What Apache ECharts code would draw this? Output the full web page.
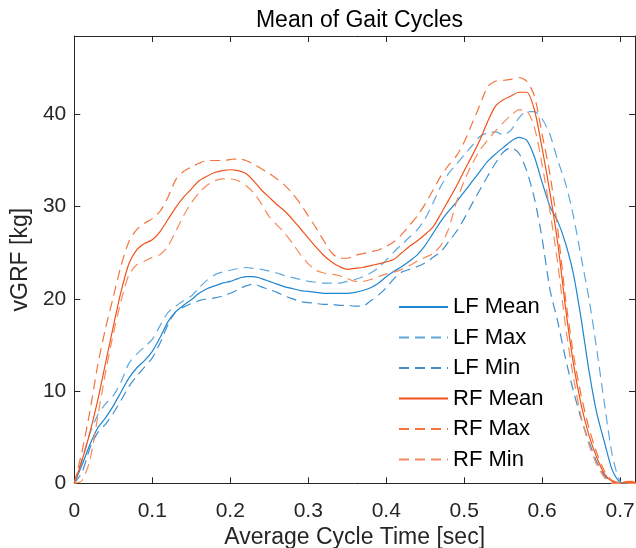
<!DOCTYPE html>
<html>
<head>
<meta charset="utf-8">
<script src="https://cdn.jsdelivr.net/npm/echarts@6/dist/echarts.min.js"></script>
<style>html,body{margin:0;padding:0;background:#fff;}#c{width:636px;height:548px;}</style>
</head>
<body>
<div id="c"></div>
<script>
// Time axis (sec), sampled every 0.01
const timeSec = [0,0.01,0.02,0.03,0.04,0.05,0.06,0.07,0.08,0.09,0.10,0.11,0.12,0.13,0.14,0.15,0.16,0.17,0.18,0.19,0.20,0.21,0.22,0.23,0.24,0.25,0.26,0.27,0.28,0.29,0.30,0.31,0.32,0.33,0.34,0.35,0.36,0.37,0.38,0.39,0.40,0.41,0.42,0.43,0.44,0.45,0.46,0.47,0.48,0.49,0.50,0.51,0.52,0.53,0.54,0.55,0.56,0.57,0.58,0.59,0.60,0.61,0.62,0.63,0.64,0.65,0.66,0.67,0.68,0.69,0.70,0.71,0.72];

const lfMean = [0,2.0,4.2,6.0,7.1,8.4,9.9,11.4,12.5,13.3,14.3,15.8,17.5,18.6,19.3,19.9,20.6,21.1,21.4,21.7,21.9,22.2,22.4,22.4,22.2,21.9,21.6,21.3,21.1,20.9,20.8,20.7,20.6,20.6,20.6,20.6,20.7,20.9,21.2,21.7,22.4,23.0,23.5,24.1,24.8,25.8,27.1,28.4,29.5,30.5,31.6,32.7,33.8,34.9,35.7,36.4,37.1,37.5,37.2,35.4,32.6,30.0,28.4,26.0,22.7,17.8,12.2,7.6,4.4,1.4,0.1,0,0];
const lfMax = [0,2.6,5.4,7.4,8.6,9.5,11.0,13.0,14.0,14.8,15.6,17.1,18.5,19.2,19.8,20.3,21.2,22.0,22.6,22.9,23.1,23.3,23.4,23.3,23.2,23.0,22.8,22.5,22.3,22.1,21.9,21.8,21.7,21.7,21.7,21.9,22.1,22.4,22.8,23.4,24.2,25.1,25.9,26.7,27.5,28.7,30.4,32.2,33.6,34.6,35.6,36.6,37.6,38.0,38.1,37.8,38.3,39.6,40.3,40.3,39.5,37.8,35.0,32.5,29.0,24.5,20.0,14.5,8.5,3.0,0.2,0,0];
const lfMin = [0,1.2,3.8,5.5,6.4,7.6,9.0,10.5,11.6,12.6,13.6,15.2,17.2,18.6,19.1,19.5,19.8,20.0,20.1,20.3,20.6,21.0,21.4,21.6,21.3,21.0,20.7,20.3,20.0,19.7,19.6,19.5,19.4,19.4,19.3,19.3,19.2,19.2,19.8,20.4,21.2,22.2,22.9,23.2,23.5,23.9,24.5,25.1,26.2,27.3,28.7,30.3,31.8,33.3,34.7,35.9,36.4,35.8,33.9,30.9,26.5,21.0,17.5,13.5,10.0,7.0,4.5,2.3,0.8,0.1,0,0,0];
const rfMean = [0,2.5,5.5,9.0,13.0,17.0,20.8,23.8,25.3,26.0,26.4,27.3,28.6,29.9,31.0,31.9,32.8,33.3,33.7,33.9,34.0,33.9,33.6,32.8,31.8,31.0,30.2,29.5,28.6,27.6,26.6,25.6,24.7,24.0,23.5,23.2,23.3,23.4,23.6,23.8,24.0,24.3,25.0,25.7,26.3,27.0,27.8,29.2,30.7,32.2,33.9,35.5,37.2,39.2,40.9,41.6,42.0,42.4,42.4,40.5,36.3,31.5,26.0,19.0,13.0,8.5,5.2,2.8,1.0,0.2,0,0.1,0.1];
const rfMax = [0,3.5,7.8,12.8,16.8,20.2,23.6,26.2,27.5,28.2,28.7,29.5,31.0,32.9,33.8,34.3,34.7,35.0,35.0,35.0,35.1,35.2,35.0,34.6,34.1,33.6,33.0,32.3,31.4,30.3,29.0,27.7,26.3,25.0,24.4,24.4,24.7,24.9,25.1,25.3,25.7,26.2,27.0,28.0,29.0,30.3,31.8,33.3,34.5,35.5,37.0,39.0,41.0,43.0,43.6,43.7,43.8,44.0,43.6,42.0,37.8,33.5,27.5,20.0,14.0,9.5,6.0,3.3,1.3,0.3,0.1,0.2,0.2];
const rfMin = [0,0.3,2.5,7.2,12.0,16.2,19.8,22.6,23.7,24.1,24.5,24.8,25.7,27.3,29.0,30.4,31.5,32.3,32.8,33.0,33.0,32.8,32.3,31.5,30.3,28.9,28.0,27.1,26.0,24.8,23.8,23.1,22.8,22.7,22.5,22.2,21.9,21.9,22.1,22.4,22.7,22.9,23.2,23.6,24.1,24.5,24.9,25.8,27.6,30.5,32.8,34.6,36.1,37.2,38.2,39.1,39.9,40.5,40.4,38.6,34.5,29.5,23.8,17.0,11.5,7.2,4.2,2.0,0.6,0,0,0,0];

const seriesNames = ['LF Mean','LF Max','LF Min','RF Mean','RF Max','RF Min'];
const seriesValues = [lfMean, lfMax, lfMin, rfMean, rfMax, rfMin];
const seriesColors = ['#1f86d0','#5fa8de','#3f8fd0','#f0521a','#f4733a','#f78a5a'];
const seriesDashed = [false, true, true, false, true, true];

const titleText = 'Mean of Gait Cycles';
const xName = 'Average Cycle Time [sec]';
const yName = 'vGRF [kg]';

const FONT = '"Liberation Sans", Arial, Helvetica, sans-serif';
const AX = '#262626';

const chart = echarts.init(document.getElementById('c'), null, {renderer: 'canvas'});

const series = seriesNames.map((n, k) => ({
  name: n,
  type: 'line',
  xAxisIndex: 0,
  yAxisIndex: 0,
  showSymbol: false,
  symbol: 'none',
  smooth: 0.25,
  animation: false,
  lineStyle: {
    color: seriesColors[k],
    width: 1.2,
    type: seriesDashed[k] ? [10, 6] : 'solid'
  },
  itemStyle: {color: seriesColors[k]},
  data: timeSec.map((t, i) => [t, seriesValues[k][i]])
}));

const xCommon = {
  type: 'value', min: 0, max: 0.719, interval: 0.1,
  splitLine: {show: false},
  axisLine: {show: true, onZero: false, lineStyle: {color: AX, width: 1}},
  axisTick: {show: true, inside: true, length: 6, lineStyle: {color: AX}}
};
const yCommon = {
  type: 'value', min: 0, max: 48.5, interval: 10,
  splitLine: {show: false},
  axisLine: {show: true, onZero: false, lineStyle: {color: AX, width: 1}},
  axisTick: {show: true, inside: true, length: 6, lineStyle: {color: AX}}
};

chart.setOption({
  backgroundColor: '#ffffff',
  animation: false,
  title: {
    text: titleText, left: 354.5, textAlign: 'center', top: 4,
    textStyle: {fontFamily: FONT, fontSize: 23, fontWeight: 'normal', color: '#000'}
  },
  grid: {left: 74.3, right: 1, top: 36, bottom: 64.7, containLabel: false, outerBoundsMode: 'none'},
  legend: {
    orient: 'vertical', left: 393, top: 291,
    itemWidth: 49, itemHeight: 14, itemGap: 8.5,
    itemStyle: {opacity: 0, borderWidth: 0},
    textStyle: {fontFamily: FONT, fontSize: 22, color: '#000'},
    data: seriesNames
  },
  xAxis: [
    Object.assign({}, xCommon, {
      position: 'bottom',
      name: xName, nameLocation: 'middle', nameGap: 43,
      nameTextStyle: {fontFamily: FONT, fontSize: 23, color: AX},
      axisLabel: {show: true, margin: 17, fontFamily: FONT, fontSize: 21, color: AX, showMaxLabel: false}
    }),
    Object.assign({}, xCommon, {position: 'top', axisLabel: {show: false}})
  ],
  yAxis: [
    Object.assign({}, yCommon, {
      position: 'left',
      name: yName, nameLocation: 'middle', nameGap: 32,
      nameTextStyle: {fontFamily: FONT, fontSize: 23, color: AX},
      axisLabel: {show: true, margin: 8, fontFamily: FONT, fontSize: 21, color: AX, showMaxLabel: false}
    }),
    Object.assign({}, yCommon, {position: 'right', axisLabel: {show: false}})
  ],
  series: series
});
</script>
</body>
</html>
